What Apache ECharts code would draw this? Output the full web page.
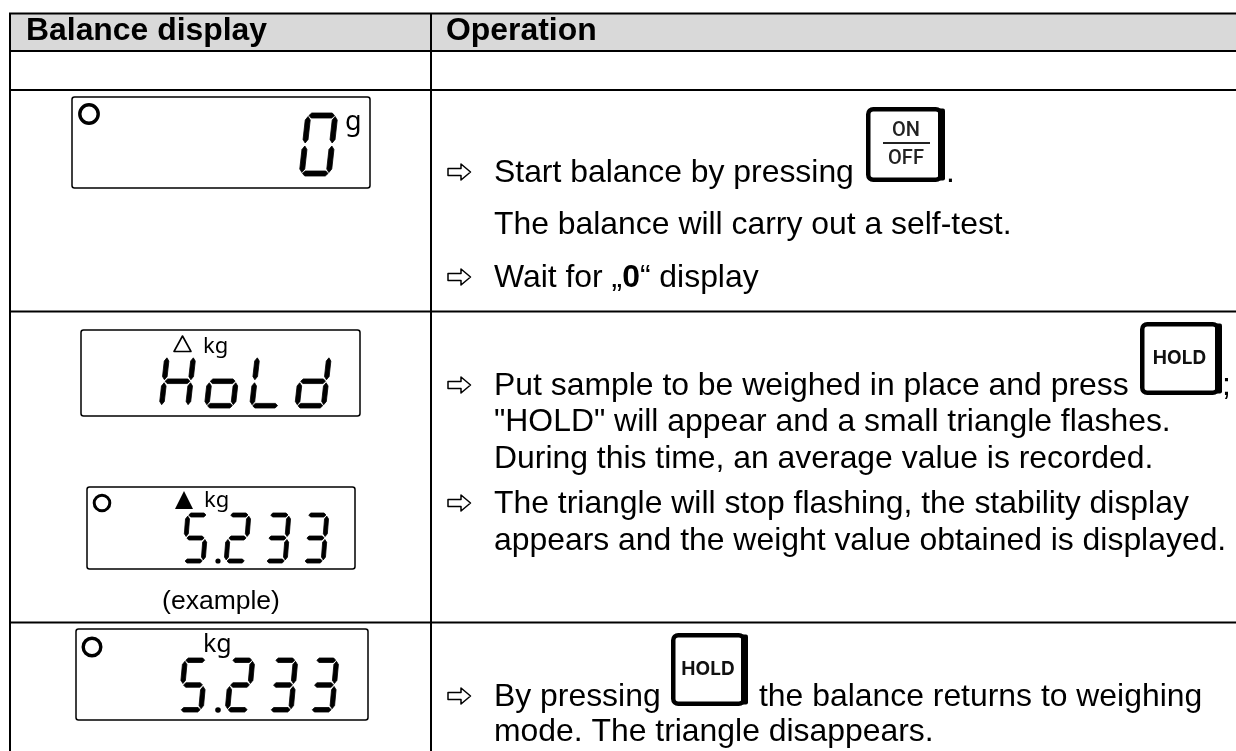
<!DOCTYPE html>
<html><head><meta charset="utf-8">
<style>html,body{margin:0;padding:0;background:#fff}#c{width:1236px;height:751px}</style>
<script src="https://cdn.jsdelivr.net/npm/echarts@6/dist/echarts.min.js"></script>
</head><body><div id="c"></div>
<script>
const headers = ['Balance display', 'Operation'];
const readingZero = '0';
const readingHold = 'HoLd';
const readingWeight = '5233';
const unitGram = 'g';
const unitKilo = 'kg';
const exampleNote = '(example)';
const opStart = 'Start balance by pressing';
const opSelfTest = 'The balance will carry out a self-test.';
const opPut = 'Put sample to be weighed in place and press';
const opHoldLines = ['"HOLD" will appear and a small triangle flashes.', 'During this time, an average value is recorded.'];
const opStopLines = ['The triangle will stop flashing, the stability display', 'appears and the weight value obtained is displayed.'];
const opBy = 'By pressing';
const opReturn = 'the balance returns to weighing';
const opMode = 'mode. The triangle disappears.';

const SEGS = {'0':'abcdef','2':'abged','3':'abgcd','5':'afgcd','H':'bcefg','o':'cdeg','L':'def','d':'bcdeg'};
const els = [];
const SANS = '"Liberation Sans", Arial, sans-serif';
const LCD = '"Noto Sans", sans-serif';
const BODY = 31.9;
function txt(s, x, base, size, o) {
  o = o || {};
  const font = o.family || SANS;
  els.push({type:'text', z:o.z||5, style:{text:s, x:x, y:base - size*0.3465 + size*0.045, fill:o.fill||'#000',
    font:(o.weight||'normal')+' '+size+'px '+font, textAlign:o.align||'left', textVerticalAlign:'middle', verticalAlign:'middle'}});
}
function poly(points, fill, stroke, lw, z) {
  els.push({type:'polygon', z:z||4, shape:{points:points}, style:{fill:fill||'#000', stroke:stroke||null, lineWidth:lw||0, lineJoin:'round'}});
}
function line(x1,y1,x2,y2,lw,c,z){
  els.push({type:'line', z:z||3, shape:{x1,y1,x2,y2}, style:{stroke:c||'#000', lineWidth:lw}});
}
function digit(ch, x0, y0, w, h, skew, t) {
  const g = 1.5;
  const map = p => [x0 + p[0] + (1 - p[1]/h)*skew, y0 + p[1]];
  const H = (yc) => [[g+t*0.35,yc],[g+t*0.85,yc-t/2],[w-g-t*0.85,yc-t/2],[w-g-t*0.35,yc],[w-g-t*0.85,yc+t/2],[g+t*0.85,yc+t/2]];
  const V = (xc,a,b) => [[xc,a],[xc+t/2,a+t*0.7],[xc+t/2,b-t*0.7],[xc,b],[xc-t/2,b-t*0.7],[xc-t/2,a+t*0.7]];
  const m = h/2;
  const S = {
    a:H(t/2), d:H(h-t/2), g:H(m),
    f:V(t/2,g+t*0.4,m-g), e:V(t/2,m+g,h-g-t*0.4),
    b:V(w-t/2,g+t*0.4,m-g), c:V(w-t/2,m+g,h-g-t*0.4)
  };
  for (const k of SEGS[ch]) poly(S[k].map(map),'#000','#000',0.8);
}
function lcdBox(x1,y1,x2,y2){
  els.push({type:'rect', z:2, shape:{x:x1,y:y1,width:x2-x1,height:y2-y1,r:2.5}, style:{fill:'#fff',stroke:'#000',lineWidth:1.5}});
}
function ring(cx,cy,r,lw){
  els.push({type:'circle', z:4, shape:{cx,cy,r}, style:{fill:'none',stroke:'#000',lineWidth:lw}});
}
function dot(cx,cy,r){ els.push({type:'circle', z:4, shape:{cx,cy,r}, style:{fill:'#000'}}); }
function arrow(cy){
  const x=448;
  poly([[x,cy-3.5],[x+13,cy-3.5],[x+13,cy-8],[x+22.5,cy],[x+13,cy+8],[x+13,cy+3.5],[x,cy+3.5]],'#fff','#000',1.5);
}
function key(x1,y1,x2,y2,label){
  const lw=4.5;
  els.push({type:'rect', z:4, shape:{x:x1+lw/2,y:y1+lw/2,width:x2-x1-lw-2,height:y2-y1-lw,r:5}, style:{fill:'#fff',stroke:'#000',lineWidth:lw}});
  els.push({type:'rect', z:4, shape:{x:x2-7,y:y1+1.5,width:7,height:y2-y1-3,r:2}, style:{fill:'#000'}});
  if(label){ txt(label,(x1+x2)/2-1.5,y1+42.5,19,{weight:'bold',align:'center',family:'Inter, Roboto, sans-serif',z:6,fill:'#111'}); }
}

// table
els.push({type:'rect', z:1, shape:{x:10,y:13,width:1226,height:38}, style:{fill:'#d9d9d9'}});
[13.5,51,90,311.5,622.5].forEach(y=>line(9,y,1236,y,2));
line(10,13,10,751,2); line(431,13,431,751,2);
txt(headers[0],26,41,BODY,{weight:'bold'});
txt(headers[1],446,41,BODY,{weight:'bold'});

// display 1
lcdBox(72,97,370,188);
ring(89,114,9.2,3.4);
digit(readingZero,299,113,32,63,7,5);
txt(unitGram,345,130,27,{family:LCD});

// display hold
lcdBox(81,330,360,416);
poly([[182.5,336],[191,351.5],[174,351.5]],'#fff','#000',1.6);
txt(unitKilo,203,353,22,{family:LCD});
[...readingHold].forEach((c,i)=>digit(c,159+i*45.2,354.5,31,53.5,6,4.6));

// display 5.233
lcdBox(87,487,355,569);
ring(102,503,7.8,3);
poly([[184,491],[193,509],[175,509]]);
txt(unitKilo,204,507,22,{family:LCD});
[182,224,264,302].forEach((x,i)=>digit(readingWeight[i],x,513,23,50,4,4));
dot(218,561,2.6);
txt(exampleNote,221,610,26.5,{align:'center'});

// display 3
lcdBox(76,629,368,720);
ring(92,647,8.8,3.4);
txt(unitKilo,203,652,25,{family:LCD});
[178,225,268,309].forEach((x,i)=>digit(readingWeight[i],x,658,25,54,5,4.5));
dot(218,710,2.8);

// operations
arrow(172);
txt(opStart,494,183,BODY);
key(866,107,945,182,null);
txt('ON',906,137,20,{align:'center',weight:500,family:'Roboto, sans-serif',fill:'#222',z:6});
line(883,143,930,143,2,'#222',6);
txt('OFF',906,165,20,{align:'center',weight:500,family:'Roboto, sans-serif',fill:'#222',z:6});
txt('.',946,183,BODY);
txt(opSelfTest,494,235,BODY);
arrow(277);
els.push({type:'text', z:5, style:{x:494, y:288-BODY*0.3015, textVerticalAlign:'middle', verticalAlign:'middle',
  text:'{a|Wait for „}{b|0}{a|“ display}', rich:{a:{font:'normal '+BODY+'px '+SANS,fill:'#000'},b:{font:'bold '+BODY+'px '+SANS,fill:'#000'}}}});

arrow(385);
txt(opPut,494,396,BODY);
key(1140,322,1222,395,'HOLD');
txt(';',1222,396,BODY);
txt(opHoldLines[0],494,432,BODY);
txt(opHoldLines[1],494,469,BODY);
arrow(503);
txt(opStopLines[0],494,514,BODY);
txt(opStopLines[1],494,551,BODY);

arrow(696);
txt(opBy,494,707,BODY);
key(671,633,748,706,'HOLD');
txt(opReturn,759,707,BODY);
txt(opMode,494,742,BODY);

const chart = echarts.init(document.getElementById('c'),null,{width:1236,height:751});
chart.setOption({animation:false, backgroundColor:'#fff', graphic:{elements:els}});
</script></body></html>
